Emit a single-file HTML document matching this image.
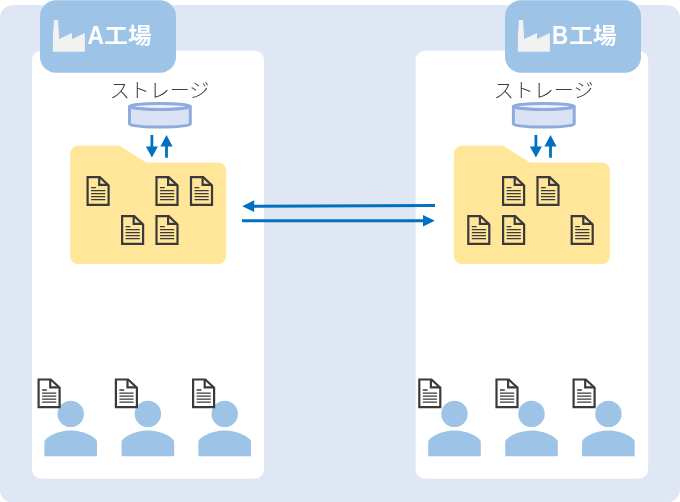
<!DOCTYPE html>
<html lang="ja"><head><meta charset="utf-8"><title>A工場 B工場</title>
<style>
html,body{margin:0;padding:0;background:#fff;}
body{width:680px;height:502px;overflow:hidden;}
svg{display:block;will-change:transform;}
.lbl{font-family:"Liberation Sans","Noto Sans CJK JP",sans-serif;font-weight:700;font-size:24px;fill:#fff;}
.lat{font-weight:700;}
.st{font-family:"Liberation Sans","Noto Sans CJK JP",sans-serif;font-weight:300;font-size:20px;fill:#3c3c3c;text-anchor:middle;}
</style></head><body>
<svg width="680" height="502" viewBox="0 0 680 502">
<rect x="-0.2" y="5" width="680.2" height="497.6" rx="13" fill="#dfe6f4"/>
<rect x="32" y="50.8" width="232" height="428" rx="9.5" fill="#fff"/>
<rect x="415.6" y="50.8" width="232.6" height="428" rx="9.5" fill="#fff"/>
<rect x="40" y="0.3" width="136" height="72.5" rx="16" fill="#9dc3e6"/>
<rect x="505" y="0.3" width="136" height="72.5" rx="16" fill="#9dc3e6"/>
<polygon points="52.9,51.8 52.9,36 54.0,20.1 58.0,20.1 59.2,39.1 72.0,33.1 72.0,39.1 84.9,33 84.9,51.8" fill="#f2f2f2"/>
<polygon points="517.9,51.8 517.9,36 519.0,20.1 523.0,20.1 524.2,39.1 537.0,33.1 537.0,39.1 549.9,33 549.9,51.8" fill="#f2f2f2"/>
<text class="lbl lat" transform="translate(87.4 43.8) scale(0.95 1.05)">A</text><text class="lbl" transform="translate(104.3 42.85) scale(0.985 0.905)">工場</text>
<text class="lbl lat" transform="translate(552.0 43.8) scale(0.935 1.04)">B</text><text class="lbl" transform="translate(569.3 42.85) scale(0.985 0.905)">工場</text>
<text class="st" x="159.5" y="98">ストレージ</text>
<text class="st" x="543.6" y="98">ストレージ</text>
<path d="M129.5 106.45 V124.05 A30.4 2.95 0 0 0 190.3 124.05 V106.45 Z" fill="#dae3f3" stroke="#8faadc" stroke-width="3" stroke-linejoin="round"/><ellipse cx="159.9" cy="106.45" rx="30.4" ry="2.95" fill="#edf1f9" stroke="#8faadc" stroke-width="3"/>
<path d="M513.4 106.45 V124.05 A30.4 2.95 0 0 0 574.1999999999999 124.05 V106.45 Z" fill="#dae3f3" stroke="#8faadc" stroke-width="3" stroke-linejoin="round"/><ellipse cx="543.8" cy="106.45" rx="30.4" ry="2.95" fill="#edf1f9" stroke="#8faadc" stroke-width="3"/>
<path d="M150.5 135.1 h2.8 V146.4 h4.6 L151.9 157.5 L145.9 146.4 h4.6 Z" fill="#0070c0"/><path d="M165.1 157.8 h2.8 V146.5 h4.7 L166.5 134.9 L160.4 146.5 h4.7 Z" fill="#0070c0"/>
<path d="M534.5 135.1 h2.8 V146.4 h4.6 L535.9 157.5 L529.9 146.4 h4.6 Z" fill="#0070c0"/><path d="M549.1 157.8 h2.8 V146.5 h4.7 L550.5 134.9 L544.4 146.5 h4.7 Z" fill="#0070c0"/>
<path d="M78.2 145.8 H119.7 L146.2 162.5 H218.2 a8 8 0 0 1 8 8 V256.1 a8 8 0 0 1 -8 8 H78.2 a8 8 0 0 1 -8 -8 V153.8 a8 8 0 0 1 8 -8 Z" fill="#ffe699"/>
<path d="M461.9 145.8 H503.4 L529.9 162.5 H601.9 a8 8 0 0 1 8 8 V256.1 a8 8 0 0 1 -8 8 H461.9 a8 8 0 0 1 -8 -8 V153.8 a8 8 0 0 1 8 -8 Z" fill="#ffe699"/>
<g transform="translate(86.5 176)"><path d="M1.1 1.1 H13.3 L22.1 9.4 V28.8 H1.1 Z" fill="none" stroke="#3a3a3c" stroke-width="2.2" stroke-linejoin="miter"/><path d="M12.7 1.2 V8.9 H22" fill="none" stroke="#3a3a3c" stroke-width="2.2"/><path d="M4.6 11.6 H9.4 M4.6 14.65 H18.8 M4.6 17.65 H18.8 M4.6 20.65 H18.8 M4.6 23.65 H18.8" stroke="#3a3a3c" stroke-width="1.3" fill="none"/></g>
<g transform="translate(155.4 176)"><path d="M1.1 1.1 H13.3 L22.1 9.4 V28.8 H1.1 Z" fill="none" stroke="#3a3a3c" stroke-width="2.2" stroke-linejoin="miter"/><path d="M12.7 1.2 V8.9 H22" fill="none" stroke="#3a3a3c" stroke-width="2.2"/><path d="M4.6 11.6 H9.4 M4.6 14.65 H18.8 M4.6 17.65 H18.8 M4.6 20.65 H18.8 M4.6 23.65 H18.8" stroke="#3a3a3c" stroke-width="1.3" fill="none"/></g>
<g transform="translate(189.9 176)"><path d="M1.1 1.1 H13.3 L22.1 9.4 V28.8 H1.1 Z" fill="none" stroke="#3a3a3c" stroke-width="2.2" stroke-linejoin="miter"/><path d="M12.7 1.2 V8.9 H22" fill="none" stroke="#3a3a3c" stroke-width="2.2"/><path d="M4.6 11.6 H9.4 M4.6 14.65 H18.8 M4.6 17.65 H18.8 M4.6 20.65 H18.8 M4.6 23.65 H18.8" stroke="#3a3a3c" stroke-width="1.3" fill="none"/></g>
<g transform="translate(121 215)"><path d="M1.1 1.1 H13.3 L22.1 9.4 V28.8 H1.1 Z" fill="none" stroke="#3a3a3c" stroke-width="2.2" stroke-linejoin="miter"/><path d="M12.7 1.2 V8.9 H22" fill="none" stroke="#3a3a3c" stroke-width="2.2"/><path d="M4.6 11.6 H9.4 M4.6 14.65 H18.8 M4.6 17.65 H18.8 M4.6 20.65 H18.8 M4.6 23.65 H18.8" stroke="#3a3a3c" stroke-width="1.3" fill="none"/></g>
<g transform="translate(155.4 215)"><path d="M1.1 1.1 H13.3 L22.1 9.4 V28.8 H1.1 Z" fill="none" stroke="#3a3a3c" stroke-width="2.2" stroke-linejoin="miter"/><path d="M12.7 1.2 V8.9 H22" fill="none" stroke="#3a3a3c" stroke-width="2.2"/><path d="M4.6 11.6 H9.4 M4.6 14.65 H18.8 M4.6 17.65 H18.8 M4.6 20.65 H18.8 M4.6 23.65 H18.8" stroke="#3a3a3c" stroke-width="1.3" fill="none"/></g>
<g transform="translate(502 176)"><path d="M1.1 1.1 H13.3 L22.1 9.4 V28.8 H1.1 Z" fill="none" stroke="#3a3a3c" stroke-width="2.2" stroke-linejoin="miter"/><path d="M12.7 1.2 V8.9 H22" fill="none" stroke="#3a3a3c" stroke-width="2.2"/><path d="M4.6 11.6 H9.4 M4.6 14.65 H18.8 M4.6 17.65 H18.8 M4.6 20.65 H18.8 M4.6 23.65 H18.8" stroke="#3a3a3c" stroke-width="1.3" fill="none"/></g>
<g transform="translate(536.4 176)"><path d="M1.1 1.1 H13.3 L22.1 9.4 V28.8 H1.1 Z" fill="none" stroke="#3a3a3c" stroke-width="2.2" stroke-linejoin="miter"/><path d="M12.7 1.2 V8.9 H22" fill="none" stroke="#3a3a3c" stroke-width="2.2"/><path d="M4.6 11.6 H9.4 M4.6 14.65 H18.8 M4.6 17.65 H18.8 M4.6 20.65 H18.8 M4.6 23.65 H18.8" stroke="#3a3a3c" stroke-width="1.3" fill="none"/></g>
<g transform="translate(467.2 215)"><path d="M1.1 1.1 H13.3 L22.1 9.4 V28.8 H1.1 Z" fill="none" stroke="#3a3a3c" stroke-width="2.2" stroke-linejoin="miter"/><path d="M12.7 1.2 V8.9 H22" fill="none" stroke="#3a3a3c" stroke-width="2.2"/><path d="M4.6 11.6 H9.4 M4.6 14.65 H18.8 M4.6 17.65 H18.8 M4.6 20.65 H18.8 M4.6 23.65 H18.8" stroke="#3a3a3c" stroke-width="1.3" fill="none"/></g>
<g transform="translate(502 215)"><path d="M1.1 1.1 H13.3 L22.1 9.4 V28.8 H1.1 Z" fill="none" stroke="#3a3a3c" stroke-width="2.2" stroke-linejoin="miter"/><path d="M12.7 1.2 V8.9 H22" fill="none" stroke="#3a3a3c" stroke-width="2.2"/><path d="M4.6 11.6 H9.4 M4.6 14.65 H18.8 M4.6 17.65 H18.8 M4.6 20.65 H18.8 M4.6 23.65 H18.8" stroke="#3a3a3c" stroke-width="1.3" fill="none"/></g>
<g transform="translate(570.6 215)"><path d="M1.1 1.1 H13.3 L22.1 9.4 V28.8 H1.1 Z" fill="none" stroke="#3a3a3c" stroke-width="2.2" stroke-linejoin="miter"/><path d="M12.7 1.2 V8.9 H22" fill="none" stroke="#3a3a3c" stroke-width="2.2"/><path d="M4.6 11.6 H9.4 M4.6 14.65 H18.8 M4.6 17.65 H18.8 M4.6 20.65 H18.8 M4.6 23.65 H18.8" stroke="#3a3a3c" stroke-width="1.3" fill="none"/></g>
<path d="M242.2 206.2 L254.2 200.3 V204.65 L435 204 V207 L254.2 207.75 V212 Z" fill="#0070c0"/>
<path d="M242 219.2 H423 V214.9 L434.8 220.7 L423 226.6 V222.2 H242 Z" fill="#0070c0"/>
<circle cx="70.7" cy="413.9" r="13.2" fill="#9dc3e6"/><path d="M44.4 456.2 V442 C44.4 438 57.2 430.6 70.7 430.6 C84.2 430.6 97.0 438 97.0 442 V456.2 Z" fill="#9dc3e6"/>
<circle cx="147.9" cy="413.9" r="13.2" fill="#9dc3e6"/><path d="M121.6 456.2 V442 C121.6 438 134.4 430.6 147.9 430.6 C161.4 430.6 174.2 438 174.2 442 V456.2 Z" fill="#9dc3e6"/>
<circle cx="224.7" cy="413.9" r="13.2" fill="#9dc3e6"/><path d="M198.4 456.2 V442 C198.4 438 211.2 430.6 224.7 430.6 C238.2 430.6 251.0 438 251.0 442 V456.2 Z" fill="#9dc3e6"/>
<circle cx="454.5" cy="413.9" r="13.2" fill="#9dc3e6"/><path d="M428.2 456.2 V442 C428.2 438 441.0 430.6 454.5 430.6 C468.0 430.6 480.8 438 480.8 442 V456.2 Z" fill="#9dc3e6"/>
<circle cx="531.5" cy="413.9" r="13.2" fill="#9dc3e6"/><path d="M505.2 456.2 V442 C505.2 438 518.0 430.6 531.5 430.6 C545.0 430.6 557.8 438 557.8 442 V456.2 Z" fill="#9dc3e6"/>
<circle cx="608.4" cy="413.9" r="13.2" fill="#9dc3e6"/><path d="M582.1 456.2 V442 C582.1 438 594.9 430.6 608.4 430.6 C621.9 430.6 634.7 438 634.7 442 V456.2 Z" fill="#9dc3e6"/>
<g transform="translate(37.5 378.4)"><path d="M1.1 1.1 H13.3 L22.1 9.4 V28.8 H1.1 Z" fill="#fff" stroke="#3a3a3c" stroke-width="2.2" stroke-linejoin="miter"/><path d="M12.7 1.2 V8.9 H22" fill="none" stroke="#3a3a3c" stroke-width="2.2"/><path d="M4.6 11.6 H9.4 M4.6 14.65 H18.8 M4.6 17.65 H18.8 M4.6 20.65 H18.8 M4.6 23.65 H18.8" stroke="#3a3a3c" stroke-width="1.3" fill="none"/></g>
<g transform="translate(114.8 378.4)"><path d="M1.1 1.1 H13.3 L22.1 9.4 V28.8 H1.1 Z" fill="#fff" stroke="#3a3a3c" stroke-width="2.2" stroke-linejoin="miter"/><path d="M12.7 1.2 V8.9 H22" fill="none" stroke="#3a3a3c" stroke-width="2.2"/><path d="M4.6 11.6 H9.4 M4.6 14.65 H18.8 M4.6 17.65 H18.8 M4.6 20.65 H18.8 M4.6 23.65 H18.8" stroke="#3a3a3c" stroke-width="1.3" fill="none"/></g>
<g transform="translate(192 378.4)"><path d="M1.1 1.1 H13.3 L22.1 9.4 V28.8 H1.1 Z" fill="#fff" stroke="#3a3a3c" stroke-width="2.2" stroke-linejoin="miter"/><path d="M12.7 1.2 V8.9 H22" fill="none" stroke="#3a3a3c" stroke-width="2.2"/><path d="M4.6 11.6 H9.4 M4.6 14.65 H18.8 M4.6 17.65 H18.8 M4.6 20.65 H18.8 M4.6 23.65 H18.8" stroke="#3a3a3c" stroke-width="1.3" fill="none"/></g>
<g transform="translate(418.2 378.4)"><path d="M1.1 1.1 H13.3 L22.1 9.4 V28.8 H1.1 Z" fill="#fff" stroke="#3a3a3c" stroke-width="2.2" stroke-linejoin="miter"/><path d="M12.7 1.2 V8.9 H22" fill="none" stroke="#3a3a3c" stroke-width="2.2"/><path d="M4.6 11.6 H9.4 M4.6 14.65 H18.8 M4.6 17.65 H18.8 M4.6 20.65 H18.8 M4.6 23.65 H18.8" stroke="#3a3a3c" stroke-width="1.3" fill="none"/></g>
<g transform="translate(495.4 378.4)"><path d="M1.1 1.1 H13.3 L22.1 9.4 V28.8 H1.1 Z" fill="#fff" stroke="#3a3a3c" stroke-width="2.2" stroke-linejoin="miter"/><path d="M12.7 1.2 V8.9 H22" fill="none" stroke="#3a3a3c" stroke-width="2.2"/><path d="M4.6 11.6 H9.4 M4.6 14.65 H18.8 M4.6 17.65 H18.8 M4.6 20.65 H18.8 M4.6 23.65 H18.8" stroke="#3a3a3c" stroke-width="1.3" fill="none"/></g>
<g transform="translate(572.5 378.4)"><path d="M1.1 1.1 H13.3 L22.1 9.4 V28.8 H1.1 Z" fill="#fff" stroke="#3a3a3c" stroke-width="2.2" stroke-linejoin="miter"/><path d="M12.7 1.2 V8.9 H22" fill="none" stroke="#3a3a3c" stroke-width="2.2"/><path d="M4.6 11.6 H9.4 M4.6 14.65 H18.8 M4.6 17.65 H18.8 M4.6 20.65 H18.8 M4.6 23.65 H18.8" stroke="#3a3a3c" stroke-width="1.3" fill="none"/></g>
</svg>
</body></html>
